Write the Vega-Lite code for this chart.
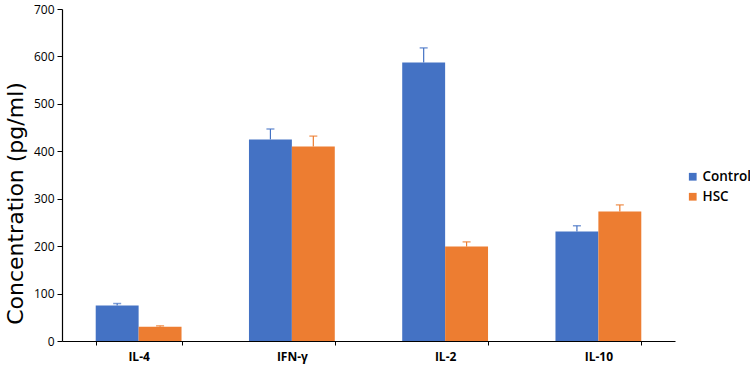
{
  "$schema": "https://vega.github.io/schema/vega-lite/v6.json",
  "width": 613,
  "height": 332,
  "autosize": "none",
  "padding": {"left": 62, "top": 9, "right": 75, "bottom": 27},
  "background": "white",
  "config": {
    "view": {"stroke": null},
    "font": "Open Sans",
    "axis": {"grid": false, "domainColor": "#000000", "tickColor": "#000000", "labelColor": "#000000", "titleColor": "#000000"}
  },
  "data": {
    "values": [
      {"cytokine": "IL-4", "group": "Control", "value": 75, "hi": 79},
      {"cytokine": "IL-4", "group": "HSC", "value": 30, "hi": 32},
      {"cytokine": "IFN-γ", "group": "Control", "value": 425, "hi": 447},
      {"cytokine": "IFN-γ", "group": "HSC", "value": 410, "hi": 432},
      {"cytokine": "IL-2", "group": "Control", "value": 587, "hi": 618},
      {"cytokine": "IL-2", "group": "HSC", "value": 199, "hi": 209},
      {"cytokine": "IL-10", "group": "Control", "value": 231, "hi": 243},
      {"cytokine": "IL-10", "group": "HSC", "value": 273, "hi": 287}
    ]
  },
  "encoding": {
    "x": {
      "field": "cytokine", "type": "nominal",
      "sort": ["IL-4", "IFN-γ", "IL-2", "IL-10"],
      "scale": {"paddingInner": 0.44, "paddingOuter": 0.22},
      "axis": {"title": null, "labelAngle": 0, "tickBand": "extent", "labelFontSize": 12, "labelFontWeight": "bold", "labelPadding": 6, "tickSize": 4, "domainWidth": 1.2}
    },
    "xOffset": {"field": "group", "type": "nominal", "sort": ["Control", "HSC"], "scale": {"paddingInner": 0, "paddingOuter": 0}},
    "color": {
      "field": "group", "type": "nominal",
      "scale": {"domain": ["Control", "HSC"], "range": ["#4472C4", "#ED7D31"]},
      "legend": {"title": null, "orient": "none", "legendX": 624, "legendY": 161, "symbolType": "square", "symbolSize": 60, "symbolOpacity": 1, "labelFontSize": 13.5, "labelFontWeight": 600, "labelColor": "#000000", "labelOffset": 3, "rowPadding": 5, "symbolStrokeWidth": 0}
    }
  },
  "layer": [
    {
      "mark": {"type": "bar"},
      "encoding": {
        "y": {
          "field": "value", "type": "quantitative",
          "scale": {"domain": [0, 700]},
          "axis": {"title": "Concentration (pg/ml)", "titleFont": "DejaVu Sans", "titleFontSize": 22, "titleFontWeight": "normal", "titlePadding": 6, "titleY": 194, "values": [0, 100, 200, 300, 400, 500, 600, 700], "labelFontSize": 12, "tickSize": 5, "labelPadding": 3, "domainWidth": 1.2}
        }
      }
    },
    {
      "mark": {"type": "rule", "strokeWidth": 1.2},
      "encoding": {
        "y": {"field": "value", "type": "quantitative"},
        "y2": {"field": "hi"}
      }
    },
    {
      "mark": {"type": "tick", "thickness": 1.5, "size": 8},
      "encoding": {
        "y": {"field": "hi", "type": "quantitative"}
      }
    }
  ]
}
